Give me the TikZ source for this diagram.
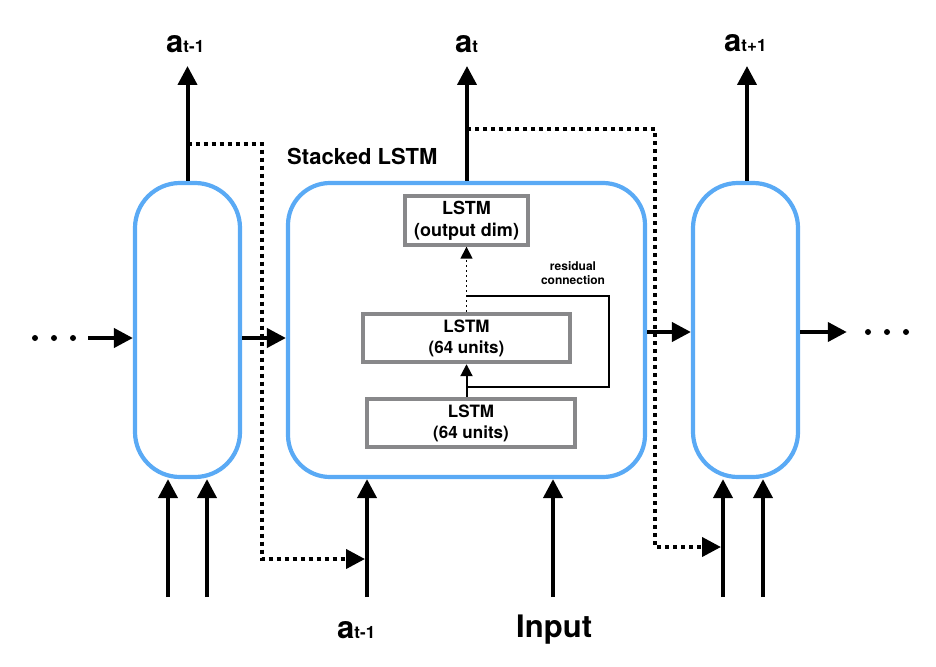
\documentclass[tikz,border=0pt]{standalone}
\usepackage{fontspec}
\setmainfont{TeX Gyre Heros}
\definecolor{cellblau}{HTML}{5AAAF5}
\definecolor{boxgrau}{HTML}{88888A}
\usetikzlibrary{arrows.meta, positioning, calc}
\newcommand{\alab}[1]{{\fontsize{31}{31}\selectfont a}{\fontsize{17}{17}\selectfont #1}}

\begin{document}
\begin{tikzpicture}[x=1pt, y=-1pt, font=\bfseries]
        \tikzset{cell/.style={draw=cellblau, line width=4.2pt, rounded corners=45pt,
                 minimum width=105pt, minimum height=294pt},
                 stack/.style={cell, rounded corners=42pt, minimum width=357pt},
                 lstmbox/.style={draw=boxgrau, line width=3.8pt, minimum height=48.6pt,
                 align=center, font=\bfseries\fontsize{17}{21}\selectfont},
                 arr/.style={line width=4pt, -{Triangle[length=19pt,width=19pt]}},
                 fbarr/.style={arr, dash pattern=on 4pt off 4pt},
                 smallarr/.style={line width=2pt, -{Triangle[length=12pt,width=12pt]}},
                 dotsbox/.style={inner sep=0, minimum height=6pt}}
        \useasboundingbox (0,0) rectangle (936,666);

        \node[cell]  (c1)  at (187.5,330) {};
        \node[stack] (stk) at (466.5,330) {};
        \node[cell]  (c3)  at (745.5,330) {};
        \node[anchor=base west, inner sep=0, font=\bfseries\fontsize{22}{22}\selectfont]
          (title) at (287,164) {Stacked LSTM};

        \node[lstmbox, minimum width=123pt, font=\bfseries\fontsize{18}{22}\selectfont]
          (lout) at (466.5,220.5) {LSTM\\(output dim)};
        \node[lstmbox, minimum width=207.6pt] (l2) at (466.5,338) {LSTM\\(64 units)};
        \node[lstmbox, minimum width=208.6pt] (l1) at (471,423)   {LSTM\\(64 units)};
        \draw[smallarr] (l2.south |- l1.north) -- (l2.south);
        \draw[smallarr, line width=1.5pt, dash pattern=on 2pt off 3pt] (l2.north) -- (lout.south);
        \coordinate (rb) at (609,387);
        \coordinate (rt) at (609,296);
        \draw[line width=1.8pt] (l2.south |- rb) -- (rb) -- (rt) -- (l2.north |- rt);
        \node[align=center, font=\bfseries\fontsize{12}{14}\selectfont] (rlab) at (573,273)
          {residual\\connection};

        \coordinate (o1) at (187.5,66);
        \coordinate (o2) at (467,66);
        \coordinate (o3) at (747,66);
        \draw[arr] (c1.north) -- (o1);
        \draw[arr] (o2 |- stk.north) -- (o2);
        \draw[arr] (o3 |- c3.north) -- (o3);
        \node[anchor=base west, inner sep=0] (a1) at (166,53) {\alab{t-1}};
        \node[anchor=base west, inner sep=0] (a2) at (455,53) {\alab{t}};
        \node[anchor=base west, inner sep=0] (a3) at (724,52) {\alab{t+1}};

        \node[dotsbox, minimum width=68pt] (ldots) at (54,338) {};
        \node[dotsbox, minimum width=80pt] (rdots) at (887,332) {};
        \foreach \dx in {-19,0,19} {
          \fill ($(ldots)+(\dx,0)$) circle (3pt);
          \fill ($(rdots)+(\dx,0)$) circle (3pt);
        }
        \draw[arr] (ldots.east) -- (c1.west |- ldots);
        \draw[arr] (c1.east |- ldots) -- (stk.west |- ldots);
        \draw[arr] (stk.east |- rdots) -- (c3.west |- rdots);
        \draw[arr] (c3.east |- rdots) -- (rdots.west);

        \coordinate (i1) at (168,597);
        \coordinate (i2) at (207,597);
        \coordinate (i3) at (367,597);
        \coordinate (i4) at (553,597);
        \coordinate (i5) at (723,597);
        \coordinate (i6) at (763,597);
        \foreach \i/\c in {i1/c1, i2/c1, i3/stk, i4/stk, i5/c3, i6/c3}
          \draw[arr] (\i) -- (\i |- \c.south);
        \node[anchor=base west, inner sep=0] (ain) at (337,638) {\alab{t-1}};
        \node[anchor=base west, inner sep=0, font=\bfseries\fontsize{31}{31}\selectfont]
          (inp) at (516,637) {Input};

        \coordinate (f1) at (262,144);
        \coordinate (f2) at (262,559);
        \coordinate (f3) at (655,129);
        \coordinate (f4) at (655,547);
        \draw[fbarr] (o1 |- f1) -- (f1) -- (f2) -- ([xshift=-2pt]i3 |- f2);
        \draw[fbarr] (o2 |- f3) -- (f3) -- (f4) -- ([xshift=-2pt]i5 |- f4);
      \end{tikzpicture}
\end{document}
